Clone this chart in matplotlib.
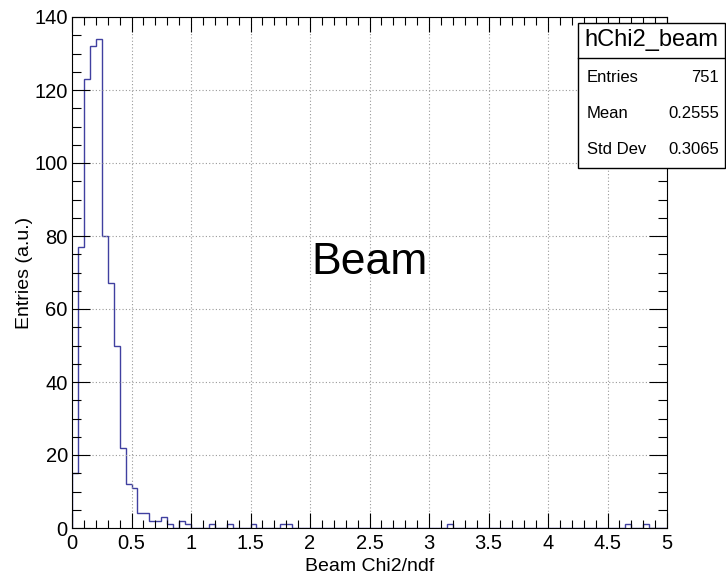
import numpy as np
import matplotlib.pyplot as plt
from matplotlib.ticker import MultipleLocator

plt.rcParams['font.family'] = ['Liberation Sans', 'DejaVu Sans']

# histogram: 100 bins from 0 to 5
x_lo, x_hi, n_bins = 0.0, 5.0, 100
counts = [15, 77, 123, 132, 134, 80, 67, 50, 22, 12,
          11, 4, 4, 2, 2, 3, 1, 0, 2, 1] + [0] * 80
# isolated single entries in the tail (bin index -> count)
tail = {23: 1, 26: 1, 30: 1, 35: 1, 36: 1, 63: 1, 93: 1, 96: 1}
for i, c in tail.items():
    counts[i] = c

hist_name = 'hChi2_beam'
stat_names = ['Entries', 'Mean', 'Std Dev']
stat_values = ['751', '0.2555', '0.3065']

edges = np.linspace(x_lo, x_hi, n_bins + 1)

fig = plt.figure(figsize=(7.26, 5.82), dpi=100)
ax = fig.add_axes([72/726, 1 - 528/582, 595/726, 511/582])

ax.stairs(counts, edges, color='#4040a0', lw=1.0)

ax.set_xlim(0, 5)
ax.set_ylim(0, 140)
ax.xaxis.set_major_locator(MultipleLocator(0.5))
ax.xaxis.set_minor_locator(MultipleLocator(0.1))
ax.yaxis.set_major_locator(MultipleLocator(20))
ax.yaxis.set_minor_locator(MultipleLocator(5))
ax.xaxis.set_major_formatter(plt.FuncFormatter(lambda v, p: '%g' % v))

ax.tick_params(axis='both', which='both', direction='in', top=True, right=True,
               labelsize=14.5, width=0.8, colors='black')
ax.tick_params(axis='x', which='major', length=11, pad=4)
ax.tick_params(axis='x', which='minor', length=5.5)
ax.tick_params(axis='y', which='major', length=13, pad=3)
ax.tick_params(axis='y', which='minor', length=6.5)

# dotted grid on the major ticks, ROOT style
ax.grid(True, which='major', color='#999999', linestyle=(0, (1, 2)), lw=0.8)
for s in ax.spines.values():
    s.set_linewidth(0.8)

ax.set_xlabel('Beam Chi2/ndf', fontsize=14, labelpad=4)
ax.set_ylabel('Entries (a.u.)', fontsize=14, labelpad=1)

ax.text(0.5, 0.52, 'Beam', transform=ax.transAxes, fontsize=32,
        ha='center', va='center')

# stats box
bx0, bx1 = 578/726, 725/726
by0, by1 = 1 - 168/582, 1 - 23/582
sep = 1 - 58/582
box = plt.Rectangle((bx0, by0), bx1 - bx0, by1 - by0, transform=fig.transFigure,
                    facecolor='white', edgecolor='black', lw=1.0, zorder=5)
fig.add_artist(box)
fig.add_artist(plt.Line2D([bx0, bx1], [sep, sep], transform=fig.transFigure,
                          color='black', lw=1.0, zorder=6))
fig.text((bx0 + bx1) / 2, 1 - 40/582, hist_name, fontsize=17,
         ha='center', va='center', zorder=7)
for k, (nm, val) in enumerate(zip(stat_names, stat_values)):
    yy = 1 - (77 + 36 * k) / 582
    fig.text(587/726, yy, nm, fontsize=12, ha='left', va='center', zorder=7)
    fig.text(719/726, yy, val, fontsize=12, ha='right', va='center', zorder=7)

fig.savefig('out.png', dpi=100)
